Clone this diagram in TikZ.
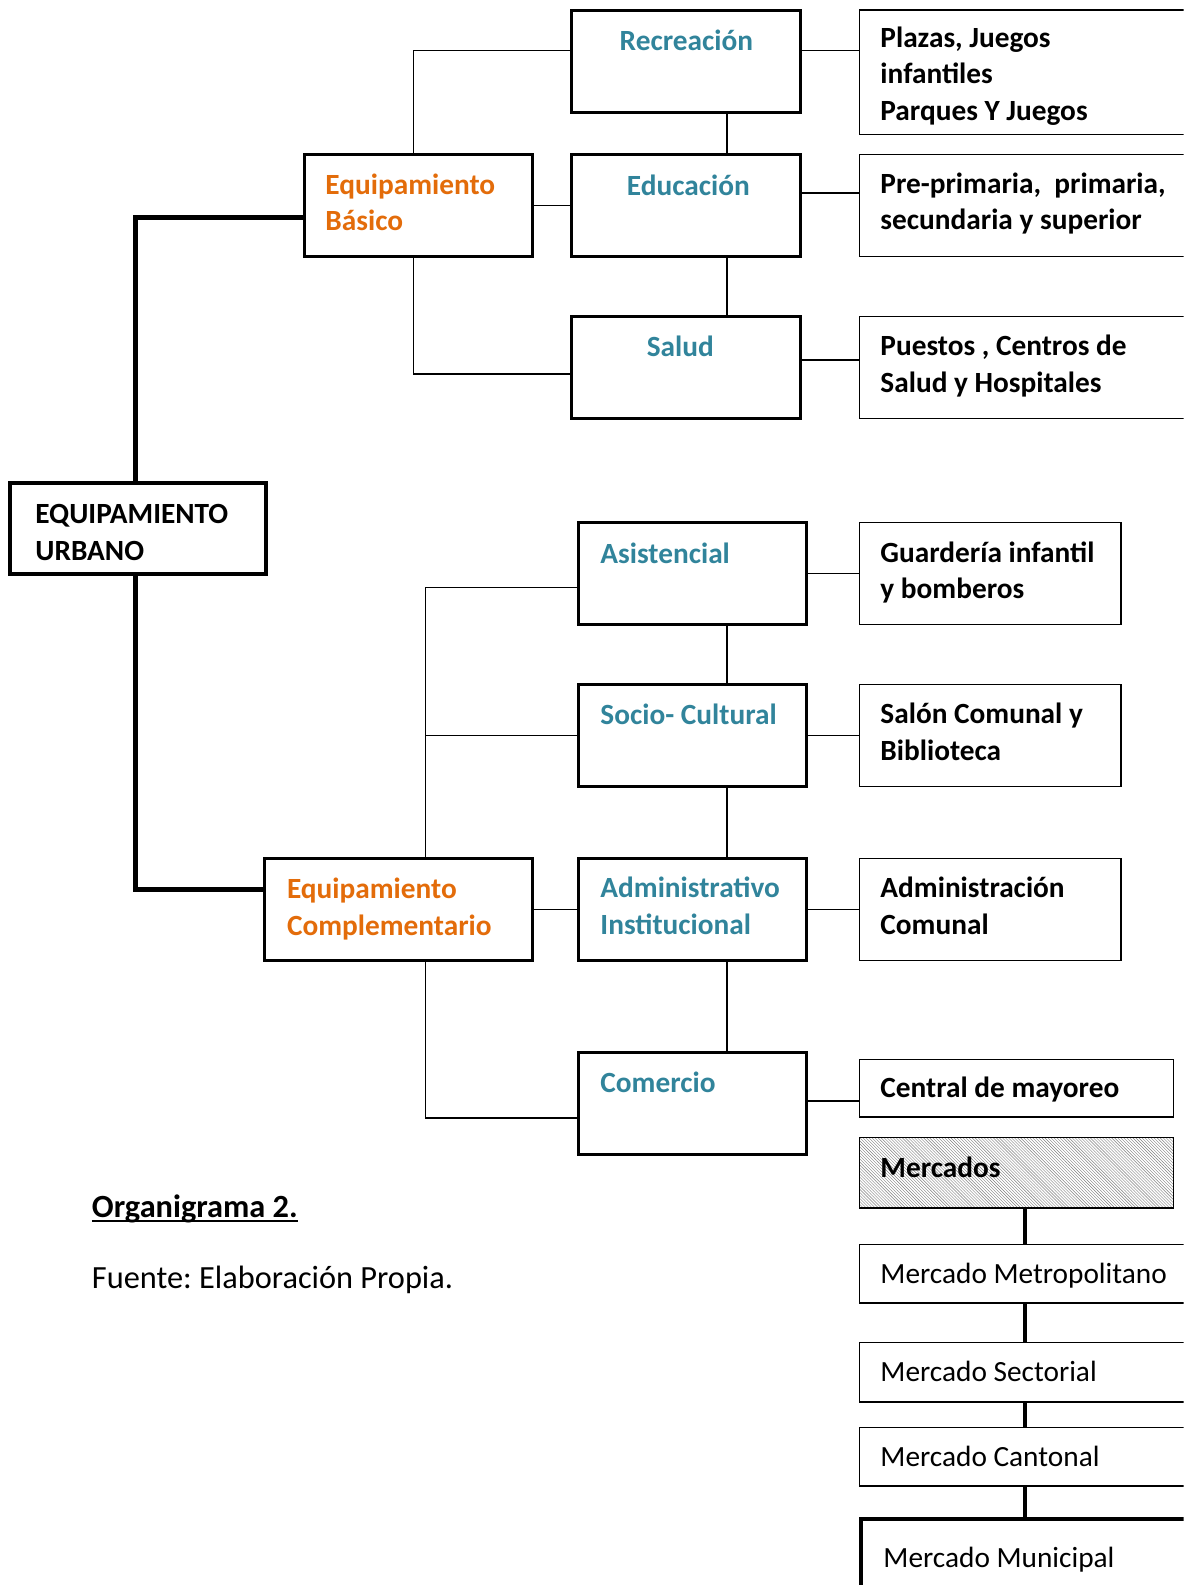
\documentclass[tikz,border=0pt]{standalone}
\usepackage{fontspec}
\setmainfont{Carlito}
\usetikzlibrary{patterns}
\definecolor{eqorange}{HTML}{E36C0A}
\definecolor{eqteal}{HTML}{31849B}
\tikzset{
  bx/.style={draw, inner sep=0pt, outer sep=0pt, anchor=north west, line width=3pt},
  thinbx/.style={bx, line width=1.3pt},
  txt/.style={anchor=base west, inner sep=0pt, outer sep=0pt, align=left, font=\fontsize{29}{36}\selectfont\bfseries\frenchspacing},
  rtxt/.style={txt, font=\fontsize{29}{36}\selectfont\frenchspacing},
  captxt/.style={txt, font=\fontsize{32}{38}\selectfont\frenchspacing},
  thickc/.style={line width=4.5pt},
  thinc/.style={line width=1.4pt},
  midc/.style={line width=3pt},
}
\begin{document}
\begin{tikzpicture}[x=1pt,y=1pt]
\useasboundingbox (0,0) rectangle (1171,-1568);
\clip (0,0) rectangle (1171,-1568);
% root
\node[bx, line width=4.5pt, minimum width=253pt, minimum height=90pt] (urb) at (10,-478) {};
\node[txt] (urbT) at (35,-554) {EQUIPAMIENTO\\URBANO};
% level 1
\node[bx, minimum width=226pt, minimum height=101pt] (bas) at (301,-153) {};
\node[txt, text=eqorange] (basT) at (322,-228) {Equipamiento\\Básico};
\node[bx, minimum width=265pt, minimum height=101pt] (cmp) at (262,-849) {};
\node[txt, text=eqorange] (cmpT) at (284,-925) {Equipamiento\\Complementario};
% level 2 upper
\node[bx, minimum width=227pt, minimum height=101pt] (rec) at (565,-10) {};
\node[txt, anchor=base, text=eqteal] (recT) at (679,-50) {Recreación};
\node[bx, minimum width=227pt, minimum height=101pt] (edu) at (565,-153) {};
\node[txt, anchor=base, text=eqteal] (eduT) at (681,-193) {Educación};
\node[bx, minimum width=227pt, minimum height=101pt] (sal) at (565,-313) {};
\node[txt, anchor=base, text=eqteal] (salT) at (673,-353) {Salud};
% level 2 lower
\node[bx, minimum width=226pt, minimum height=101pt] (asi) at (572,-517) {};
\node[txt, text=eqteal] (asiT) at (594,-557) {Asistencial};
\node[bx, minimum width=226pt, minimum height=101pt] (soc) at (572,-677) {};
\node[txt, text=eqteal] (socT) at (594,-717) {Socio- Cultural};
\node[bx, minimum width=226pt, minimum height=101pt] (adm) at (572,-849) {};
\node[txt, text=eqteal] (admT) at (594,-924) {Administrativo\\Institucional};
\node[bx, minimum width=226pt, minimum height=101pt] (cme) at (572,-1041) {};
\node[txt, text=eqteal] (cmeT) at (594,-1081) {Comercio};
% level 3 upper
\node[thinbx, minimum width=330pt, minimum height=123pt] (plz) at (850,-10) {};
\node[txt] (plzT) at (871,-119) {Plazas, Juegos\\infantiles\\Parques Y Juegos};
\node[thinbx, minimum width=330pt, minimum height=101pt] (pre) at (850,-153) {};
\node[txt] (preT) at (871,-227) {Pre-primaria,~ primaria,\\secundaria y superior};
\node[thinbx, minimum width=330pt, minimum height=101pt] (pue) at (850,-313) {};
\node[txt] (pueT) at (871,-388) {Puestos , Centros de\\Salud y Hospitales};
% level 3 lower
\node[thinbx, minimum width=259pt, minimum height=101pt] (gua) at (850,-517) {};
\node[txt] (guaT) at (871,-592) {Guardería infantil\\y bomberos};
\node[thinbx, minimum width=259pt, minimum height=101pt] (slc) at (850,-677) {};
\node[txt] (slcT) at (871,-752) {Salón Comunal y\\Biblioteca};
\node[thinbx, minimum width=259pt, minimum height=101pt] (adc) at (850,-849) {};
\node[txt] (adcT) at (871,-924) {Administración\\Comunal};
\node[thinbx, minimum width=311pt, minimum height=57pt] (cen) at (850,-1048) {};
\node[txt] (cenT) at (871,-1086) {Central de mayoreo};
% markets
\node[thinbx, minimum width=311pt, minimum height=70pt, pattern=north west lines, pattern color=black!50] (mer) at (850,-1125) {};
\node[txt] (merT) at (871,-1165) {Mercados};
\node[thinbx, minimum width=330pt, minimum height=58pt] (met) at (850,-1231) {};
\node[rtxt] (metT) at (871,-1270) {Mercado Metropolitano};
\node[thinbx, minimum width=330pt, minimum height=59pt] (sec) at (850,-1328) {};
\node[rtxt] (secT) at (871,-1367) {Mercado Sectorial};
\node[thinbx, minimum width=330pt, minimum height=58pt] (can) at (850,-1412) {};
\node[rtxt] (canT) at (871,-1451) {Mercado Cantonal};
\node[bx, line width=4pt, minimum width=330pt, minimum height=80pt] (mun) at (852,-1503) {};
\node[rtxt] (munT) at (874,-1551) {Mercado Municipal};
% caption
\node[captxt, font=\fontsize{32}{38}\selectfont\bfseries] (org) at (91,-1204) {Organigrama 2.};
\draw[line width=2pt] ([yshift=-4pt]org.base west) -- ([yshift=-4pt]org.base east);
\node[captxt] (fue) at (91,-1275) {Fuente: Elaboración Propia.};
% thick connectors
\draw[thickc] ([xshift=-2.5pt]urb.north) |- ([yshift=-11.5pt]bas.west);
\draw[thickc] ([xshift=-2.5pt]urb.south) |- ([yshift=19.5pt]cmp.west);
% upper branch
\draw[thinc] ([xshift=-5pt]bas.north) |- ([yshift=10.5pt]rec.west);
\draw[thinc] (bas.east) -- (edu.west);
\draw[thinc] ([xshift=-5pt]bas.south) |- ([yshift=-6.5pt]sal.west);
\draw[thinc] ([xshift=40.5pt]rec.south) -- ([xshift=40.5pt]edu.north);
\draw[thinc] ([xshift=40.5pt]edu.south) -- ([xshift=40.5pt]sal.north);
\draw[thinc] ([yshift=10.5pt]rec.east) -- ([yshift=10.5pt]rec.east -| plz.west);
\draw[thinc] ([yshift=12.5pt]edu.east) -- ([yshift=12.5pt]edu.east -| pre.west);
\draw[thinc] ([yshift=7.5pt]sal.east) -- ([yshift=7.5pt]sal.east -| pue.west);
% lower branch
\coordinate (cv) at ([xshift=26.5pt]cmp.north);
\draw[thinc] (cv) |- ([yshift=-13.5pt]asi.west);
\draw[thinc] (soc.west) -- (soc.west -| cv);
\draw[thinc] (cmp.east) -- (adm.west);
\draw[thinc] ([xshift=26.5pt]cmp.south) |- ([yshift=-14.5pt]cme.west);
\draw[thinc] ([xshift=34pt]asi.south) -- ([xshift=34pt]soc.north);
\draw[thinc] ([xshift=34pt]soc.south) -- ([xshift=34pt]adm.north);
\draw[thinc] ([xshift=34pt]adm.south) -- ([xshift=34pt]cme.north);
\draw[thinc] (asi.east) -- (gua.west);
\draw[thinc] (soc.east) -- (slc.west);
\draw[thinc] (adm.east) -- (adc.west);
\draw[thinc] ([yshift=2.5pt]cme.east) -- ([yshift=2.5pt]cme.east -| cen.west);
% market chain
\draw[midc] ([xshift=8.5pt]mer.south) -- ([xshift=8.5pt]mer.south |- met.north);
\draw[midc] ([xshift=8.5pt]mer.south |- met.south) -- ([xshift=8.5pt]mer.south |- sec.north);
\draw[midc] ([xshift=8.5pt]mer.south |- sec.south) -- ([xshift=8.5pt]mer.south |- can.north);
\draw[midc] ([xshift=8.5pt]mer.south |- can.south) -- ([xshift=8.5pt]mer.south |- mun.north);
\end{tikzpicture}
\end{document}
